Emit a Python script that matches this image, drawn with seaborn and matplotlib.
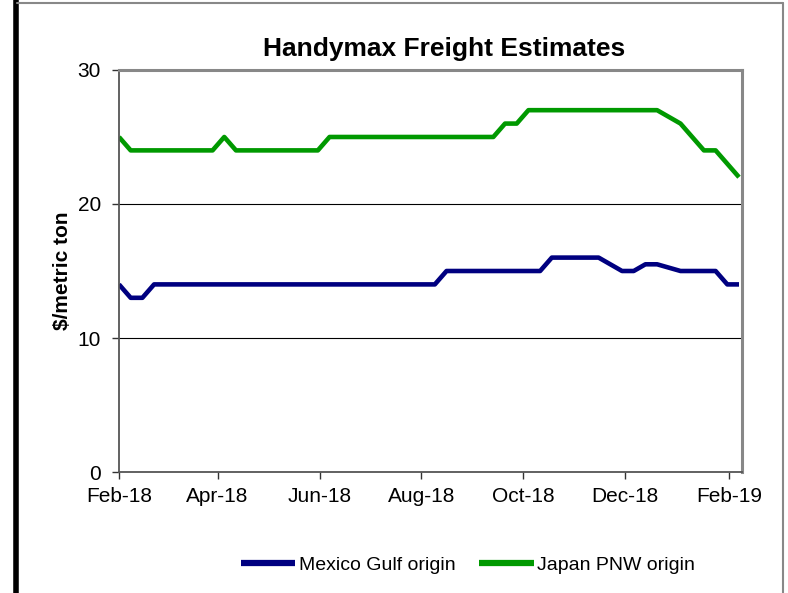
import pandas as pd
import seaborn as sns
import matplotlib.pyplot as plt
import matplotlib.dates as mdates
from matplotlib.lines import Line2D

sns.set_theme(style='white', rc={
    'axes.labelsize': 15,
    'xtick.labelsize': 15,
    'ytick.labelsize': 15,
    'legend.fontsize': 14,
    'text.color': 'black',
    'axes.labelcolor': 'black',
    'xtick.color': 'black',
    'ytick.color': 'black',
})
plt.rcParams['font.family'] = ['Liberation Sans', 'DejaVu Sans']

# weekly estimates, Thursdays starting 1 Feb 2018
weeks = pd.date_range('2018-02-01', periods=54, freq='7D')

mexico_gulf = [14, 13, 13, 14, 14, 14, 14, 14, 14, 14,
               14, 14, 14, 14, 14, 14, 14, 14, 14, 14,
               14, 14, 14, 14, 14, 14, 14, 14, 15, 15,
               15, 15, 15, 15, 15, 15, 15, 16, 16, 16,
               16, 16, 15.5, 15, 15, 15.5, 15.5, 15.25, 15, 15,
               15, 15, 14, 14]

japan_pnw = [25, 24, 24, 24, 24, 24, 24, 24, 24, 25,
             24, 24, 24, 24, 24, 24, 24, 24, 25, 25,
             25, 25, 25, 25, 25, 25, 25, 25, 25, 25,
             25, 25, 25, 26, 26, 27, 27, 27, 27, 27,
             27, 27, 27, 27, 27, 27, 27, 26.5, 26, 25,
             24, 24, 23, 22]

series_names = ['Mexico Gulf origin', 'Japan PNW origin']
series_colors = ['#000080', '#009900']

df = pd.DataFrame({
    'week': list(weeks) * 2,
    'value': mexico_gulf + japan_pnw,
    'series': [series_names[0]] * len(weeks) + [series_names[1]] * len(weeks),
})

fig = plt.figure(figsize=(7.88, 5.93), dpi=100)
ax = fig.add_axes([0.151, 0.204, 0.790, 0.678])

sns.lineplot(data=df, x='week', y='value', hue='series', hue_order=series_names,
             palette=series_colors, linewidth=3.3, ax=ax, legend=True,
             solid_joinstyle='round', solid_capstyle='butt')

ax.set_xlim(pd.Timestamp('2018-02-01'), pd.Timestamp('2019-02-08 12:00'))
ax.set_ylim(0, 30)
ax.set_yticks([0, 10, 20, 30])
ax.xaxis.set_major_locator(mdates.MonthLocator(bymonth=[2, 4, 6, 8, 10, 12], bymonthday=1))
ax.xaxis.set_major_formatter(mdates.DateFormatter('%b-%y'))

ax.set_xlabel('')
ax.set_ylabel('$/metric ton', fontweight='bold', labelpad=4)
ax.set_title('Handymax Freight Estimates', fontsize=19, fontweight='bold', pad=10, x=0.523)

ax.yaxis.grid(True, color='black', linewidth=0.8)
ax.set_axisbelow(True)
ax.tick_params(axis='both', direction='out', length=5, width=1, color='#333333',
               bottom=True, left=True)
ax.tick_params(axis='x', pad=6)
ax.tick_params(axis='y', pad=8)
for side in ['left', 'bottom']:
    ax.spines[side].set_color('#555555')
    ax.spines[side].set_linewidth(1.3)
for side in ['top', 'right']:
    ax.spines[side].set_color('#888888')
    ax.spines[side].set_linewidth(2.2)

handles, labels = ax.get_legend_handles_labels()
ax.get_legend().remove()
leg = fig.legend(handles, labels, loc='center', bbox_to_anchor=(0.594, 0.047), ncol=2,
                 frameon=False, handlelength=2.8, handletextpad=0.2, columnspacing=1.2)
for h in leg.get_lines():
    h.set_linewidth(4.5)

# outer chart frame
fig.add_artist(Line2D([0.0205, 0.0205], [0, 1], transform=fig.transFigure, color='black', linewidth=4))
fig.add_artist(Line2D([0.022, 0.994], [0.9955, 0.9955], transform=fig.transFigure, color='#888888', linewidth=1.5))
fig.add_artist(Line2D([0.994, 0.994], [0, 0.9955], transform=fig.transFigure, color='#888888', linewidth=1.5))

plt.savefig('out.png', dpi=100)
